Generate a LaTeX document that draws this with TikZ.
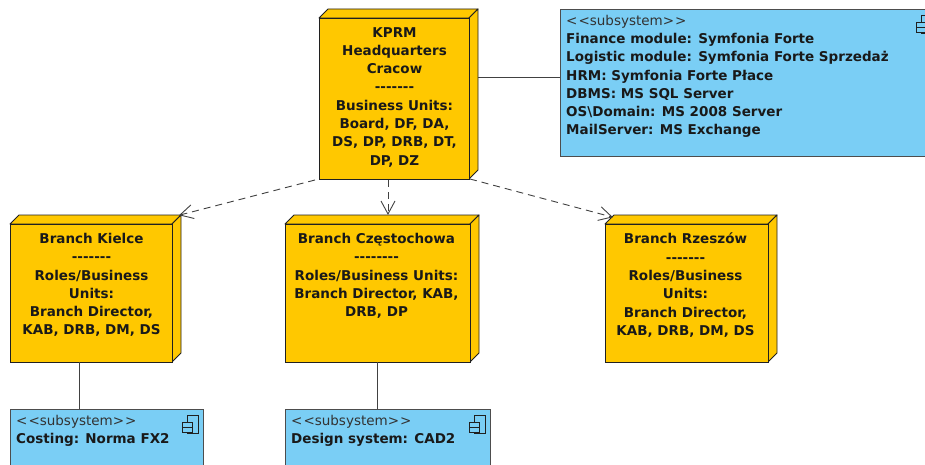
\documentclass[tikz,border=0pt]{standalone}
\usepackage{fontspec}
\setmainfont{DejaVu Sans}
\usetikzlibrary{arrows.meta}
\pgfdeclarearrow{
  name=VTip,
  setup code={\pgfarrowssettipend{0pt}\pgfarrowssetlineend{-0.5pt}\pgfarrowssetbackend{-13pt}\pgfarrowssetvisualbackend{-0.5pt}},
  drawing code={\pgfsetdash{}{0pt}\pgfsetlinewidth{.9pt}\pgfpathmoveto{\pgfqpoint{-13pt}{7pt}}\pgfpathlineto{\pgfpointorigin}\pgfpathlineto{\pgfqpoint{-13pt}{-7pt}}\pgfusepathqstroke}
}
\definecolor{nodefill}{HTML}{FFC800}
\definecolor{subfill}{HTML}{7ACEF5}
\definecolor{edge}{HTML}{202020}
\tikzset{
  x=1pt,y=-1pt,
  front/.style={draw=edge,fill=nodefill,line width=.95pt,inner sep=0pt,outer sep=0pt},
  side/.style={draw=edge,fill=nodefill,line width=.95pt,line join=round},
  lbl/.style={anchor=north,align=center,inner sep=0pt,font=\fontsize{13.5}{18.3}\selectfont\bfseries,text=black!90},
  subbox/.style={draw=edge!80,fill=subfill,line width=.95pt,inner sep=0pt,outer sep=0pt},
  stereo/.style={anchor=north west,inner sep=0pt,font=\fontsize{13.5}{18.3}\selectfont,text=black!80},
  subtext/.style={anchor=north west,align=left,inner sep=0pt,font=\fontsize{13.5}{18.3}\selectfont\bfseries,text=black!90},
  link/.style={draw=edge!85,line width=.9pt},
  dep/.style={draw=edge!85,line width=.9pt,dash pattern=on 7pt off 5pt,-VTip},
  icon/.style={draw=edge,line width=.8pt,fill=subfill}
}
% name, left, top, right, bottom of front face
\newcommand{\umlnode}[5]{%
  \draw[side] (#2,#3) -- ++(9,-9) -- (#4+9,#3-9) -- (#4,#3) -- cycle;
  \draw[side] (#4,#3) -- (#4+9,#3-9) -- (#4+9,#5-9) -- (#4,#5) -- cycle;
  \node[front,minimum width=#4pt-#2pt,minimum height=#5pt-#3pt,anchor=north west] (#1) at (#2,#3) {};
}
\newcommand{\compicon}[2]{%
  \draw[icon] (#1+3,#2) rectangle ++(11,18);
  \draw[icon] (#1-2,#2+7) rectangle ++(10,5);
  \draw[icon] (#1-2,#2+12) rectangle ++(10,5);
}
\begin{document}
\begin{tikzpicture}
\useasboundingbox (0,0) rectangle (925,465);
\clip (0,0) rectangle (925,465);

\umlnode{kprm}{319}{18}{469}{179}
\node[lbl] (kprmtext) at (394.5,27) {KPRM\\Headquarters\\Cracow\\-{}-{}-{}-{}-{}-{}-\\Business Units:\\Board, DF, DA,\\DS, DP, DRB, DT,\\DP, DZ};

\umlnode{kielce}{10}{224}{172}{362}
\node[lbl] (kielcetext) at (91.5,233) {Branch Kielce\\-{}-{}-{}-{}-{}-{}-\\Roles/Business\\Units:\\Branch Director,\\KAB, DRB, DM, DS};

\umlnode{czest}{285}{224}{470}{362}
\node[lbl] (czesttext) at (376.5,233) {Branch Częstochowa\\-{}-{}-{}-{}-{}-{}-{}-\\Roles/Business Units:\\Branch Director, KAB,\\DRB, DP};

\umlnode{rzeszow}{605}{224}{768}{362}
\node[lbl] (rzeszowtext) at (685.5,233) {Branch Rzeszów\\-{}-{}-{}-{}-{}-{}-\\Roles/Business\\Units:\\Branch Director,\\KAB, DRB, DM, DS};

\node[subbox,minimum width=380pt,minimum height=147pt,anchor=north west] (hq) at (560,9) {};
\node[stereo] (hqstereo) at (566,15) {<\kern1pt<subsystem>\kern1pt>};
\node[subtext] (hqtext) at (566,33) {Finance module: Symfonia Forte\\Logistic module: Symfonia Forte Sprzedaż\\HRM: Symfonia Forte Płace\\DBMS: MS SQL Server\\OS\textbackslash Domain: MS 2008 Server\\MailServer: MS Exchange};
\compicon{918}{15}

\node[subbox,minimum width=193pt,minimum height=70pt,anchor=north west] (costing) at (10,409) {};
\node[stereo] (costingstereo) at (16,415) {<\kern1pt<subsystem>\kern1pt>};
\node[subtext] (costingtext) at (16,433) {Costing: Norma FX2};
\compicon{184}{415}

\node[subbox,minimum width=205pt,minimum height=70pt,anchor=north west] (cad) at (285,409) {};
\node[stereo] (cadstereo) at (291,415) {<\kern1pt<subsystem>\kern1pt>};
\node[subtext] (cadtext) at (291,433) {Design system: CAD2};
\compicon{471}{415}

\coordinate (hqa) at (478,77);
\coordinate (hqb) at (560,77);
\coordinate (ka) at (79,362);
\coordinate (kb) at (79,409);
\coordinate (ca) at (377,362);
\coordinate (cb) at (377,409);
\coordinate (kl) at (315,180);
\coordinate (kielcein) at (180,215);
\coordinate (cs) at (388,180);
\coordinate (czestin) at (388,214);
\coordinate (kr) at (470,179);
\coordinate (rzin) at (612,217);
\draw[link] (hqa) -- (hqb);
\draw[link] (ka) -- (kb);
\draw[link] (ca) -- (cb);
\draw[dep] (kl) -- (kielcein);
\draw[dep] (cs) -- (czestin);
\draw[dep] (kr) -- (rzin);
\end{tikzpicture}
\end{document}
